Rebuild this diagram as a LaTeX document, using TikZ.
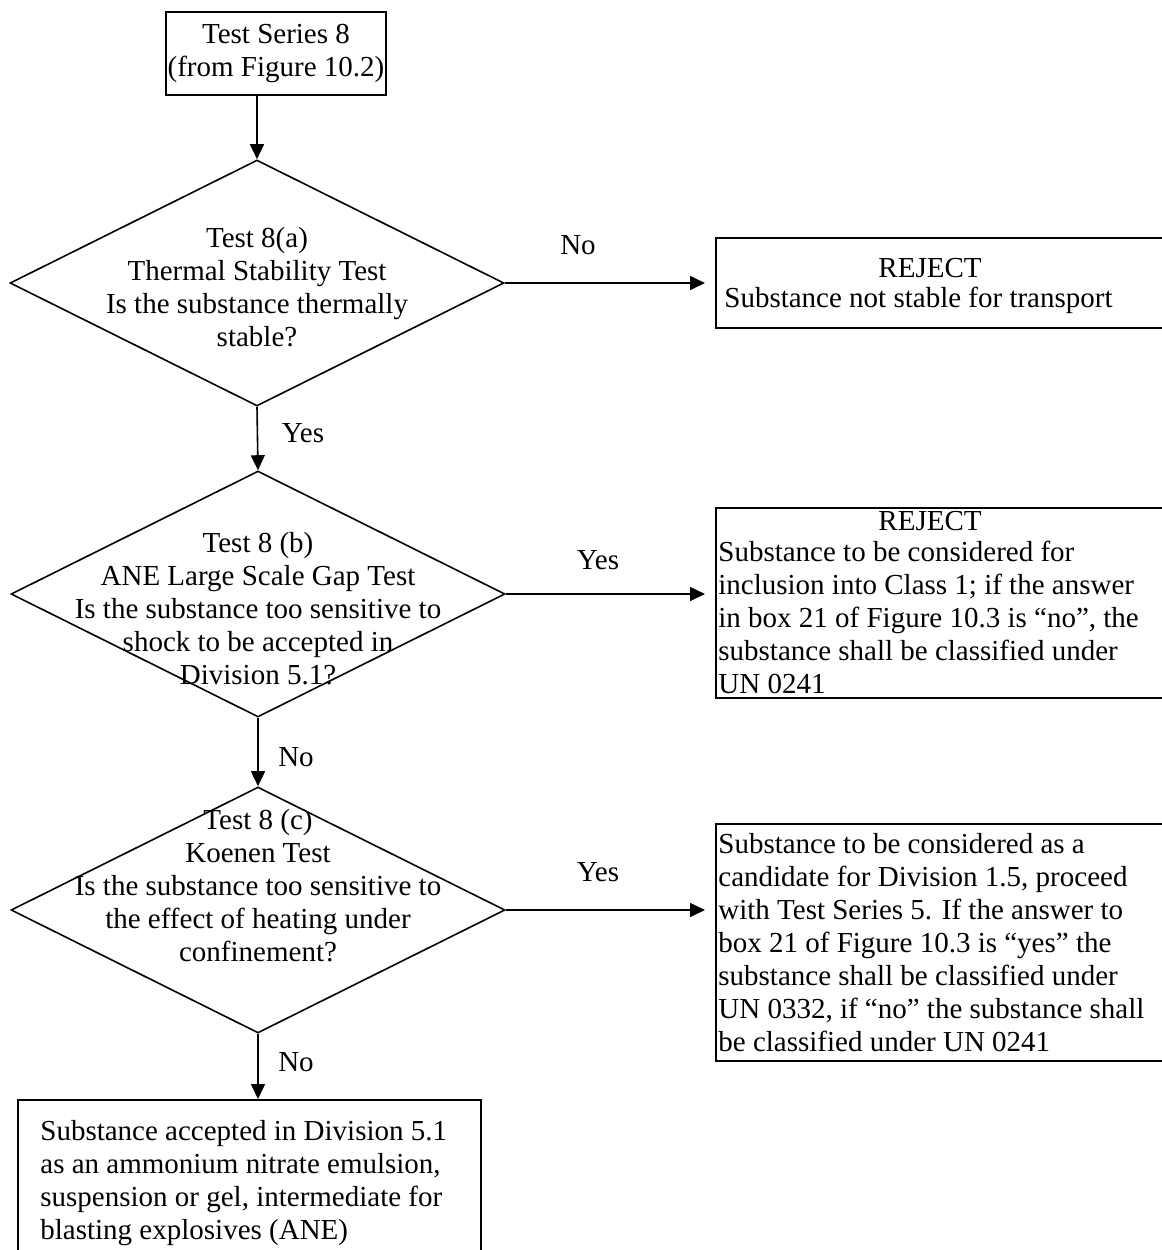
\documentclass[tikz,border=0pt]{standalone}
\usepackage{fontspec}
\setmainfont{Liberation Serif}
\usetikzlibrary{shapes.geometric,arrows.meta}
\begin{document}
\begin{tikzpicture}[x=0.5pt,y=-0.5pt,
  every node/.style={font=\fontsize{14.5}{16.5}\selectfont, inner sep=0pt},
  box/.style={draw, line width=1pt, rectangle, anchor=north west},
  dia/.style={draw, line width=0.8pt, diamond, minimum width=247pt, minimum height=123pt},
  arr/.style={line width=0.8pt, -{Triangle[length=7.5pt,width=7pt]}},
  txt/.style={align=center},
  ltxt/.style={align=left, anchor=north west}]
\useasboundingbox (0,0) rectangle (1162,1250);
\clip (0,0) rectangle (1162,1250);

% start box
\node[draw, line width=1pt, minimum width=110pt, minimum height=41.5pt, align=center] (top) at (276,53.5) {Test Series 8\\(from Figure 10.2)};

% decisions
\node[dia] (d1) at (257,283) {};
\node[txt] (d1t) at (257,287) {Test 8(a)\\Thermal Stability Test\\Is the substance thermally\\stable?};
\node[dia] (d2) at (258,594) {};
\node[txt] (d2t) at (258,609) {Test 8 (b)\\ANE Large Scale Gap Test\\Is the substance too sensitive to\\shock to be accepted in\\Division 5.1?};
\node[dia] (d3) at (258,910) {};
\node[txt] (d3t) at (258,886) {Test 8 (c)\\Koenen Test\\Is the substance too sensitive to\\the effect of heating under\\confinement?};

% outcome boxes
\node[box, minimum width=227.5pt, minimum height=45pt] (b1) at (715,237) {};
\node (b1r) at (930,268) {REJECT};
\node[anchor=west] (b1t) at (724,300) {Substance not stable for transport};

\node[box, minimum width=227.5pt, minimum height=95pt] (b2) at (715,507) {};
\node (b2r) at (930,521) {REJECT};
\node[ltxt] (b2t) at (718,541) {Substance to be considered for\\inclusion into Class 1; if the answer\\in box 21 of Figure 10.3 is “no”, the\\substance shall be classified under\\UN 0241};

\node[box, minimum width=227.5pt, minimum height=118.5pt] (b3) at (715,823) {};
\node[ltxt] (b3t) at (718,833) {Substance to be considered as a\\candidate for Division 1.5, proceed\\with Test Series 5. If the answer to\\box 21 of Figure 10.3 is “yes” the\\substance shall be classified under\\UN 0332, if “no” the substance shall\\be classified under UN 0241};

\node[box, minimum width=231.5pt, minimum height=80.5pt] (b4) at (17,1099) {};
\node[ltxt] (b4t) at (40,1120) {Substance accepted in Division 5.1\\as an ammonium nitrate emulsion,\\suspension or gel, intermediate for\\blasting explosives (ANE)};

% connectors
\draw[arr] (top.south -| d1.north) -- (d1.north);
\draw[arr] (d1.east) -- ([xshift=-5pt]b1.west |- d1.east);
\draw[arr] (d1.south) -- (d2.north);
\draw[arr] (d2.east) -- ([xshift=-5pt]b2.west |- d2.east);
\draw[arr] (d2.south) -- (d3.north);
\draw[arr] (d3.east) -- ([xshift=-5pt]b3.west |- d3.east);
\draw[arr] (d3.south) -- (b4.north -| d3.south);

% labels
\node (l1) at (578,245) {No};
\node (l2) at (303,433) {Yes};
\node (l3) at (598,560) {Yes};
\node (l4) at (296,757) {No};
\node (l5) at (598,872) {Yes};
\node (l6) at (296,1062) {No};
\end{tikzpicture}
\end{document}
